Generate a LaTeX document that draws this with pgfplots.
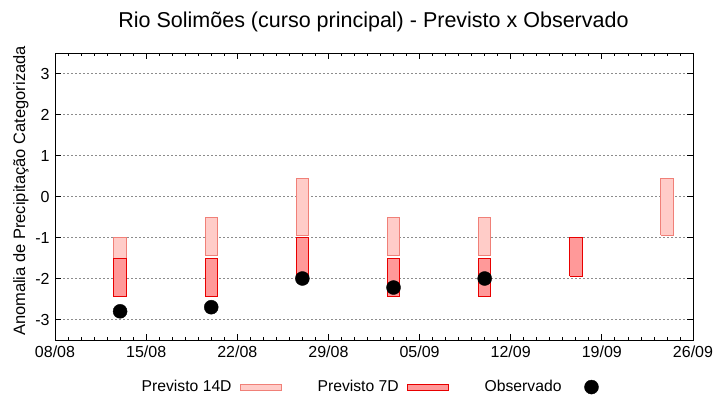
\documentclass[border=0pt]{standalone}
\usepackage{fontspec}
\setmainfont{Liberation Sans}
\usepackage{pgfplots}
\pgfplotsset{compat=1.18}

\definecolor{fill14}{RGB}{255,204,200}
\definecolor{line14}{RGB}{240,128,120}
\definecolor{fill7}{RGB}{255,153,153}
\definecolor{line7}{RGB}{232,0,0}

% dias contados a partir de 08/08; caixas com meia largura de 0.475 dia
\begin{document}
\fontsize{15.7bp}{19bp}\selectfont
\begin{tikzpicture}
\useasboundingbox (0,0) rectangle (720bp,400bp);
\begin{axis}[
    at={(55bp,60bp)}, anchor=south west,
    scale only axis, width=638bp, height=287bp,
    xmin=0, xmax=49, ymin=-3.5, ymax=3.5,
    xtick={0,7,...,49},
    xticklabels={08/08,15/08,22/08,29/08,05/09,12/09,19/09,26/09},
    minor x tick num=6,
    ytick={-3,-2,...,3},
    yticklabels={-3,-2,-1,0,1,2,3},
    ymajorgrids,
    grid style={gray!90, dash pattern=on 2bp off 2bp, line width=0.8bp},
    axis line style={line width=1bp},
    every tick/.style={black, line width=0.8bp},
    major tick length=6bp, minor tick length=3bp,
    tick label style={font=\fontsize{16bp}{19bp}\selectfont},
    ylabel={Anomalia de Precipitação Categorizada},
    ylabel style={at={(axis description cs:-0.0533,0.519)}, anchor=center,
        font=\fontsize{16.5bp}{19bp}\selectfont},
    unbounded coords=jump,
    legend columns=3, legend plot pos=right,
    legend style={draw=none, fill=none, at={(0.4925,-0.164)}, anchor=center,
        font=\fontsize{15.7bp}{19bp}\selectfont,
        /tikz/every odd column/.append style={column sep=6bp},
        /tikz/every even column/.append style={column sep=34bp}},
    legend image code/.code={\draw[#1, line width=1bp] (0bp,-3bp) rectangle (41bp,3bp);},
]
% Previsto 14D
\addplot[draw=line14, fill=fill14, line width=1bp, sharp plot, mark=none, line join=miter] table {
x y
4.525 -1.95
5.475 -1.95
5.475 -1.0
4.525 -1.0
4.525 -1.95
nan nan
11.525 -1.45
12.475 -1.45
12.475 -0.5
11.525 -0.5
11.525 -1.45
nan nan
18.525 -0.95
19.475 -0.95
19.475 0.45
18.525 0.45
18.525 -0.95
nan nan
25.525 -1.45
26.475 -1.45
26.475 -0.5
25.525 -0.5
25.525 -1.45
nan nan
32.525 -1.45
33.475 -1.45
33.475 -0.5
32.525 -0.5
32.525 -1.45
nan nan
46.525 -0.95
47.475 -0.95
47.475 0.45
46.525 0.45
46.525 -0.95
};
\addlegendentry{Previsto 14D}
% Previsto 7D
\addplot[draw=line7, fill=fill7, line width=1bp, sharp plot, mark=none, line join=miter] table {
x y
4.525 -2.45
5.475 -2.45
5.475 -1.5
4.525 -1.5
4.525 -2.45
nan nan
11.525 -2.45
12.475 -2.45
12.475 -1.5
11.525 -1.5
11.525 -2.45
nan nan
18.525 -1.95
19.475 -1.95
19.475 -1.0
18.525 -1.0
18.525 -1.95
nan nan
25.525 -2.45
26.475 -2.45
26.475 -1.5
25.525 -1.5
25.525 -2.45
nan nan
32.525 -2.45
33.475 -2.45
33.475 -1.5
32.525 -1.5
32.525 -2.45
nan nan
39.525 -1.95
40.475 -1.95
40.475 -1.0
39.525 -1.0
39.525 -1.95
};
\addlegendentry{Previsto 7D}
% Observado
\addplot[only marks, mark=*, mark size=7bp, black,
    legend image code/.code={\path[draw=none, fill=none] (0bp,0bp) -- (29bp,0bp);
        \fill[black] (22bp,0bp) circle (7bp);}] table {
x y
5 -2.80
12 -2.70
19 -2.00
26 -2.22
33 -2.00
};
\addlegendentry{Observado}
\end{axis}
\node[anchor=base, font=\fontsize{21.5bp}{25bp}\selectfont] at (373.5bp,372.5bp)
    {Rio Solimões (curso principal) - Previsto x Observado};
\end{tikzpicture}
\end{document}
